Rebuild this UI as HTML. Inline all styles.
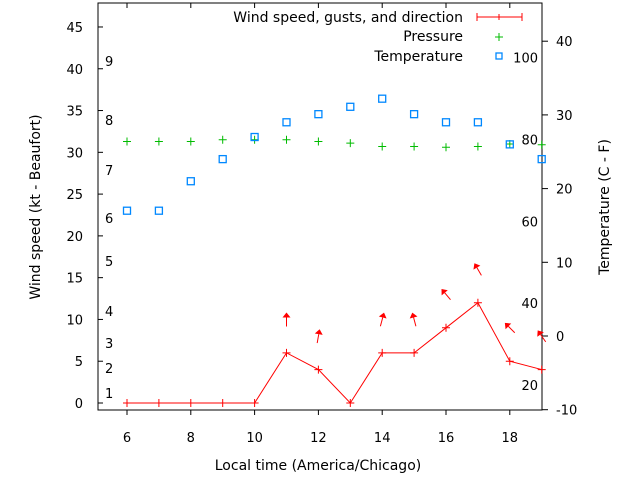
<!DOCTYPE html>
<html><head><meta charset="utf-8"><style>
body{margin:0;background:#fff;}
svg{display:block;font-family:"DejaVu Sans","Liberation Sans",sans-serif;font-size:13px;}
.big{font-size:14px;}
</style></head><body>
<svg id="c" width="640" height="480" viewBox="0 0 640 480">
<g id="g"></g>
</svg>
<script>
const hours=[6,7,8,9,10,11,12,13,14,15,16,17,18,19];
const windKt=[0,0,0,0,0,6,4,0,6,6,9,12,5,4];
const pressure=[31.3,31.3,31.3,31.5,31.5,31.5,31.3,31.1,30.7,30.7,30.6,30.7,31.0,30.9];
const tempC=[17,17,21,24,27,29,30.1,31.1,32.2,30.1,29,29,26,24];
const gustHours=[11,12,14,15,16,17,18,19];
const gustKt=[10,8,10,10,13,16,9,8];
const gustDir=[0,10,15,-15,-40,-30,-45,-35];
const xTicks=[6,8,10,12,14,16,18];
const yTicks=[0,5,10,15,20,25,30,35,40,45];
const y2Ticks=[-10,0,10,20,30,40];
const fLabels=[20,40,60,80,100];
const beaufort=[[1,393],[2,368],[3,343],[4,311],[5,261],[6,218],[7,170],[8,120],[9,61]];

const L=98,R=542,T=3,B=410;
const X=h=>127+(h-6)*31.9;
const Y=v=>403-v*8.356;
const Y2=c=>336-c*7.37;
const NS="http://www.w3.org/2000/svg";
const g=document.getElementById('g');
function el(t,a,txt){const e=document.createElementNS(NS,t);for(const k in a)e.setAttribute(k,a[k]);if(txt!==undefined)e.textContent=txt;g.appendChild(e);return e;}

let e=el('rect',{x:L,y:T,width:R-L,height:B-T,fill:'none',stroke:'#000','stroke-width':1});


xTicks.forEach(h=>{
 let t=el('line',{x1:X(h),x2:X(h),y1:B,y2:B+5,stroke:'#000'});
 
 
 el('line',{x1:X(h),x2:X(h),y1:T,y2:T+5,stroke:'#000'});
 let l=el('text',{x:X(h),y:442,'text-anchor':'middle'},h);
 
 
});
yTicks.forEach(v=>{
 let t=el('line',{x1:L,x2:L+5,y1:Y(v),y2:Y(v),stroke:'#000'});
 
 
 let l=el('text',{x:83,y:Y(v)+5,'text-anchor':'end'},v);
 
 
});
y2Ticks.forEach(v=>{
 let t=el('line',{x1:R,x2:R+6,y1:Y2(v),y2:Y2(v),stroke:'#000'});
 
 
 let l=el('text',{x:556,y:Y2(v)+5,'text-anchor':'start'},v);
 
 
});
fLabels.forEach(f=>{
 let l=el('text',{x:538,y:Y2((f-32)*5/9)+5,'text-anchor':'end'},f);
 
 
});
beaufort.forEach(b=>{
 let l=el('text',{x:105,y:b[1]+5},b[0]);
 
 
});
let pts=hours.map((h,i)=>X(h)+','+Y(windKt[i])).join(' ');
let pl=el('polyline',{points:pts,fill:'none',stroke:'#f00','stroke-width':1});


hours.forEach((h,i)=>{
 let p=el('path',{d:`M${X(h)-4},${Y(windKt[i])}h8M${X(h)},${Y(windKt[i])-4}v8`,stroke:'#f00','stroke-width':1});
 
 
 let q=el('path',{d:`M${X(h)-4},${Y(pressure[i])}h8M${X(h)},${Y(pressure[i])-4}v8`,stroke:'#0b0','stroke-width':1});
 
 
 let s=el('rect',{x:X(h)-3.5,y:Y2(tempC[i])-3.5,width:7,height:7,fill:'none',stroke:'#08f','stroke-width':1.3});
 
 
});
gustHours.forEach((h,i)=>{
 const a=gustDir[i]*Math.PI/180,len=14,cx=X(h),cy=Y(gustKt[i]);
 const dx=Math.sin(a)*len/2,dy=-Math.cos(a)*len/2;
 const tx=cx+dx,ty=cy+dy,bx=cx-dx,by=cy-dy;
 const ux=Math.sin(a),uy=-Math.cos(a),px=-uy,py=ux;
 const hx=tx-ux*5,hy=ty-uy*5;
 let grp=document.createElementNS(NS,'g');
 
 
 g.appendChild(grp);
 const ln=document.createElementNS(NS,'line');
 ln.setAttribute('x1',bx);ln.setAttribute('y1',by);ln.setAttribute('x2',hx);ln.setAttribute('y2',hy);
 ln.setAttribute('stroke','#f00');grp.appendChild(ln);
 const hd=document.createElementNS(NS,'polygon');
 hd.setAttribute('points',`${tx},${ty} ${hx+px*4},${hy+py*4} ${hx-px*4},${hy-py*4}`);
 hd.setAttribute('fill','#f00');grp.appendChild(hd);
});
function lt(x,y,txt,name){let t=el('text',{x:x,y:y,'text-anchor':'end',class:'big'},txt);}
lt(463,22,'Wind speed, gusts, and direction','legend-wind-label');
let lw=el('path',{d:'M477,17h45M477,13v8M522,13v8M499,14v6',stroke:'#f00','stroke-width':1,fill:'none'});


lt(463,41,'Pressure','legend-pressure-label');
let lp=el('path',{d:'M495,37h8M499,33v8',stroke:'#0b0'});


lt(463,61,'Temperature','legend-temperature-label');
let ls=el('rect',{x:496,y:53,width:6,height:6,fill:'none',stroke:'#08f','stroke-width':1.3});


let xt=el('text',{x:318,y:470,'text-anchor':'middle',class:'big'},'Local time (America/Chicago)');


let yt=el('text',{x:0,y:0,'text-anchor':'middle',class:'big',transform:'translate(40,207) rotate(-90)'},'Wind speed (kt - Beaufort)');


let y2t=el('text',{x:0,y:0,'text-anchor':'middle',class:'big',transform:'translate(609,207) rotate(-90)'},'Temperature (C - F)');


</script>
</body></html>
